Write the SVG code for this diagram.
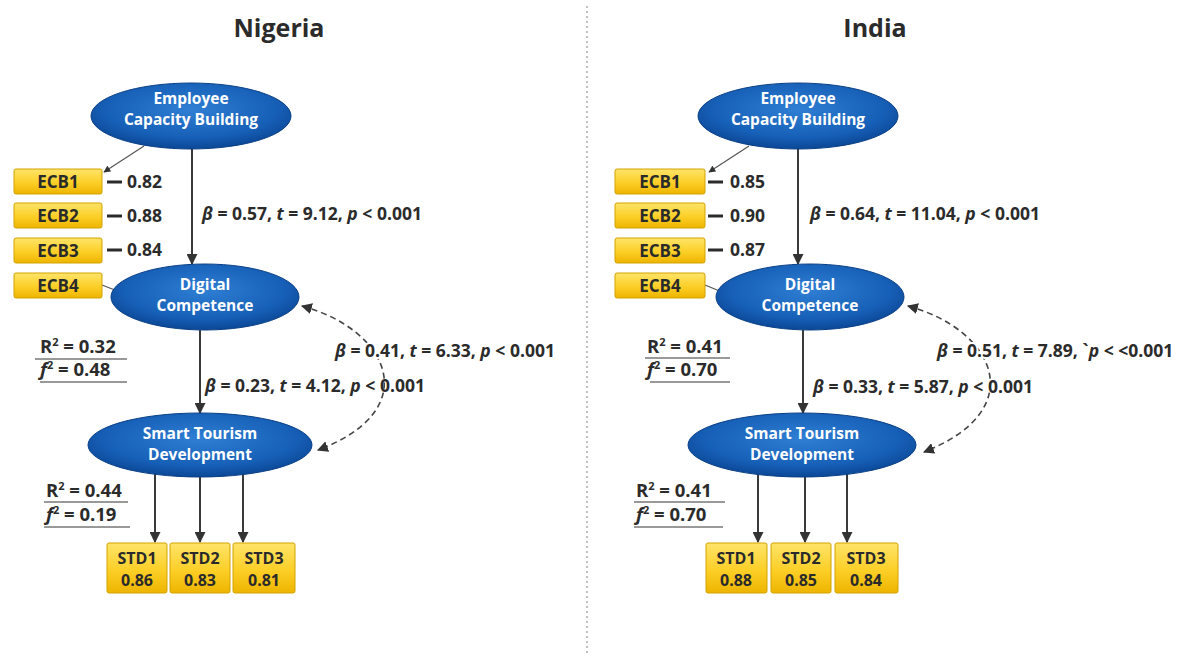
<svg xmlns="http://www.w3.org/2000/svg" width="1188" height="660" viewBox="0 0 1188 660">
<defs>
<radialGradient id="blue" cx="50%" cy="40%" r="60%">
<stop offset="0" stop-color="#2f7fd4"/>
<stop offset="0.7" stop-color="#1760b8"/>
<stop offset="1" stop-color="#0b4796"/>
</radialGradient>
<linearGradient id="gold" x1="0" y1="0" x2="0" y2="1">
<stop offset="0" stop-color="#ffe46a"/>
<stop offset="0.55" stop-color="#fccf27"/>
<stop offset="1" stop-color="#eeb400"/>
</linearGradient>
<marker id="ah" viewBox="0 0 10 10" refX="9" refY="5" markerWidth="7" markerHeight="7" orient="auto-start-reverse" markerUnits="userSpaceOnUse">
<path d="M0,0 L10,5 L0,10 z" fill="#333"/>
</marker>
<marker id="ahs" viewBox="0 0 10 10" refX="9" refY="5" markerWidth="11" markerHeight="11" orient="auto-start-reverse" markerUnits="userSpaceOnUse">
<path d="M0,0 L10,5 L0,10 z" fill="#333"/>
</marker>
</defs>
<style>
text{font-family:"Open Sans","DejaVu Sans",sans-serif;font-weight:bold}
.title{font-size:25px;fill:#2b2b2b;text-anchor:middle}
.ell{fill:url(#blue);stroke:#0a3f85;stroke-width:1}
.et{font-size:15.5px;fill:#ffffff;text-anchor:middle}
.box{fill:url(#gold);stroke:#d2a300;stroke-width:1}
.bt{font-size:17px;fill:#2a2a2a;text-anchor:middle}
.st{font-size:16px;fill:#2a2a2a;text-anchor:middle}
.lbl{font-size:17.5px;fill:#2b2b2b}
.halo{paint-order:stroke;stroke:#ffffff;stroke-width:4px;stroke-linejoin:round}
.ld{font-size:17.5px;fill:#2b2b2b}
.it{font-style:italic}
.arr{stroke:#3a3a3a;stroke-width:2;fill:none;marker-end:url(#ahs)}
.thin{stroke:#555;stroke-width:1.2;fill:none}
.dash{stroke:#444;stroke-width:1.6;fill:none;stroke-dasharray:6 4;marker-start:url(#ahs);marker-end:url(#ahs)}
.ldash{stroke:#2b2b2b;stroke-width:3}
.ul{stroke:#777;stroke-width:1.3}
.rf{font-size:18.5px;fill:#2b2b2b}
.sup{font-size:11px}
</style>

<rect width="1188" height="660" fill="#ffffff"/>

<line x1="587" y1="6" x2="587" y2="656" stroke="#aaaaaa" stroke-width="1.5" stroke-dasharray="2 3"/>

<text class="title" x="279" y="37">Nigeria</text>
<text class="title" x="875" y="37">India</text>

<!-- Connectors -->
<g id="connectors">
<!-- Nigeria -->
<line class="thin" x1="144" y1="146" x2="104" y2="172" marker-end="url(#ah)"/>
<line class="thin" x1="102" y1="285" x2="120" y2="292"/>
<line class="arr" x1="192" y1="149" x2="192" y2="264"/>
<line class="arr" x1="200" y1="330" x2="200" y2="413"/>
<line class="arr" x1="155" y1="474" x2="155" y2="542"/>
<line class="arr" x1="200" y1="477" x2="200" y2="542"/>
<line class="arr" x1="243" y1="474" x2="243" y2="542"/>
<path class="dash" d="M302 306 C390 330 425 410 318 450"/>
<!-- India -->
<line class="thin" x1="749" y1="146" x2="709" y2="172" marker-end="url(#ah)"/>
<line class="thin" x1="705" y1="285" x2="722" y2="292"/>
<line class="arr" x1="798" y1="149" x2="798" y2="264"/>
<line class="arr" x1="803" y1="330" x2="803" y2="413"/>
<line class="arr" x1="758" y1="474" x2="758" y2="542"/>
<line class="arr" x1="805" y1="477" x2="805" y2="542"/>
<line class="arr" x1="847" y1="474" x2="847" y2="542"/>
<path class="dash" d="M908 306 C996 330 1031 410 924 452"/>
</g>

<!-- Nigeria nodes -->
<g id="ng-ecb">
<ellipse class="ell" cx="191" cy="116" rx="100" ry="33"/>
<text class="et" x="191" y="104">Employee</text>
<text class="et" x="191" y="125">Capacity Building</text>
</g>
<g id="ng-ecb1"><rect class="box" x="14" y="169" width="88" height="25" rx="2"/><text class="bt" x="58" y="188">ECB1</text></g>
<g id="ng-ecb2"><rect class="box" x="14" y="203" width="88" height="25" rx="2"/><text class="bt" x="58" y="222">ECB2</text></g>
<g id="ng-ecb3"><rect class="box" x="14" y="238" width="88" height="25" rx="2"/><text class="bt" x="58" y="257">ECB3</text></g>
<g id="ng-ecb4"><rect class="box" x="14" y="273" width="88" height="25" rx="2"/><text class="bt" x="58" y="292">ECB4</text></g>
<g id="ng-load">
<line class="ldash" x1="107" y1="182" x2="122" y2="182"/><text class="ld" x="127" y="188">0.82</text>
<line class="ldash" x1="107" y1="216" x2="122" y2="216"/><text class="ld" x="127" y="222">0.88</text>
<line class="ldash" x1="107" y1="250" x2="122" y2="250"/><text class="ld" x="127" y="256">0.84</text>
</g>
<g id="ng-dc">
<ellipse class="ell" cx="205" cy="297" rx="94" ry="33"/>
<text class="et" x="205" y="290">Digital</text>
<text class="et" x="205" y="311">Competence</text>
</g>
<g id="ng-std">
<ellipse class="ell" cx="200" cy="445" rx="112" ry="32"/>
<text class="et" x="200" y="439">Smart Tourism</text>
<text class="et" x="200" y="460">Development</text>
</g>
<g id="ng-std1"><rect class="box" x="107" y="543" width="60" height="50" rx="2"/><text class="st" x="137" y="564">STD1</text><text class="st" x="137" y="586">0.86</text></g>
<g id="ng-std2"><rect class="box" x="170" y="543" width="60" height="50" rx="2"/><text class="st" x="200" y="564">STD2</text><text class="st" x="200" y="586">0.83</text></g>
<g id="ng-std3"><rect class="box" x="233" y="543" width="62" height="50" rx="2"/><text class="st" x="264" y="564">STD3</text><text class="st" x="264" y="586">0.81</text></g>

<g id="ng-labels">
<text class="lbl" x="202" y="220"><tspan class="it">β</tspan> = 0.57, <tspan class="it">t</tspan> = 9.12, <tspan class="it">p</tspan> &lt; 0.001</text>
<text class="lbl" x="205" y="392"><tspan class="it">β</tspan> = 0.23, <tspan class="it">t</tspan> = 4.12, <tspan class="it">p</tspan> &lt; 0.001</text>
<text class="lbl halo" x="335" y="357"><tspan class="it">β</tspan> = 0.41, <tspan class="it">t</tspan> = 6.33, <tspan class="it">p</tspan> &lt; 0.001</text>
<text class="rf" x="40" y="353">R<tspan class="sup" dy="-7">2</tspan><tspan dy="7"> = 0.32</tspan></text>
<line class="ul" x1="35" y1="359" x2="127" y2="359"/>
<text class="rf" x="40" y="376"><tspan class="it">f</tspan><tspan class="sup" dy="-7">2</tspan><tspan dy="7"> = 0.48</tspan></text>
<line class="ul" x1="40" y1="382" x2="127" y2="382"/>
<text class="rf" x="46" y="497">R<tspan class="sup" dy="-7">2</tspan><tspan dy="7"> = 0.44</tspan></text>
<line class="ul" x1="44" y1="502" x2="128" y2="502"/>
<text class="rf" x="46" y="521"><tspan class="it">f</tspan><tspan class="sup" dy="-7">2</tspan><tspan dy="7"> = 0.19</tspan></text>
<line class="ul" x1="44" y1="527" x2="130" y2="527"/>
</g>

<!-- India nodes -->
<g id="in-ecb">
<ellipse class="ell" cx="798" cy="116" rx="100" ry="33"/>
<text class="et" x="798" y="104">Employee</text>
<text class="et" x="798" y="125">Capacity Building</text>
</g>
<g id="in-ecb1"><rect class="box" x="615" y="169" width="90" height="25" rx="2"/><text class="bt" x="660" y="188">ECB1</text></g>
<g id="in-ecb2"><rect class="box" x="615" y="203" width="90" height="25" rx="2"/><text class="bt" x="660" y="222">ECB2</text></g>
<g id="in-ecb3"><rect class="box" x="615" y="238" width="90" height="25" rx="2"/><text class="bt" x="660" y="257">ECB3</text></g>
<g id="in-ecb4"><rect class="box" x="615" y="273" width="90" height="25" rx="2"/><text class="bt" x="660" y="292">ECB4</text></g>
<g id="in-load">
<line class="ldash" x1="708" y1="182" x2="723" y2="182"/><text class="ld" x="730" y="188">0.85</text>
<line class="ldash" x1="708" y1="216" x2="723" y2="216"/><text class="ld" x="730" y="222">0.90</text>
<line class="ldash" x1="708" y1="250" x2="723" y2="250"/><text class="ld" x="730" y="256">0.87</text>
</g>
<g id="in-dc">
<ellipse class="ell" cx="810" cy="297" rx="94" ry="33"/>
<text class="et" x="810" y="290">Digital</text>
<text class="et" x="810" y="311">Competence</text>
</g>
<g id="in-std">
<ellipse class="ell" cx="802" cy="445" rx="114" ry="32"/>
<text class="et" x="802" y="439">Smart Tourism</text>
<text class="et" x="802" y="460">Development</text>
</g>
<g id="in-std1"><rect class="box" x="706" y="543" width="61" height="50" rx="2"/><text class="st" x="736" y="564">STD1</text><text class="st" x="736" y="586">0.88</text></g>
<g id="in-std2"><rect class="box" x="771" y="543" width="60" height="50" rx="2"/><text class="st" x="801" y="564">STD2</text><text class="st" x="801" y="586">0.85</text></g>
<g id="in-std3"><rect class="box" x="835" y="543" width="63" height="50" rx="2"/><text class="st" x="866" y="564">STD3</text><text class="st" x="866" y="586">0.84</text></g>

<g id="in-labels">
<text class="lbl" x="810" y="220"><tspan class="it">β</tspan> = 0.64, <tspan class="it">t</tspan> = 11.04, <tspan class="it">p</tspan> &lt; 0.001</text>
<text class="lbl" x="813" y="393"><tspan class="it">β</tspan> = 0.33, <tspan class="it">t</tspan> = 5.87, <tspan class="it">p</tspan> &lt; 0.001</text>
<text class="lbl halo" x="937" y="357"><tspan class="it">β</tspan> = 0.51, <tspan class="it">t</tspan> = 7.89, `<tspan class="it">p</tspan> &lt; &lt;0.001</text>
<text class="rf" x="647" y="353">R<tspan class="sup" dy="-7">2</tspan><tspan dy="7"> = 0.41</tspan></text>
<line class="ul" x1="645" y1="358" x2="730" y2="358"/>
<text class="rf" x="647" y="376"><tspan class="it">f</tspan><tspan class="sup" dy="-7">2</tspan><tspan dy="7"> = 0.70</tspan></text>
<line class="ul" x1="650" y1="382" x2="730" y2="382"/>
<text class="rf" x="636" y="497">R<tspan class="sup" dy="-7">2</tspan><tspan dy="7"> = 0.41</tspan></text>
<line class="ul" x1="634" y1="502" x2="725" y2="502"/>
<text class="rf" x="636" y="521"><tspan class="it">f</tspan><tspan class="sup" dy="-7">2</tspan><tspan dy="7"> = 0.70</tspan></text>
<line class="ul" x1="634" y1="527" x2="723" y2="527"/>
</g>
</svg>
